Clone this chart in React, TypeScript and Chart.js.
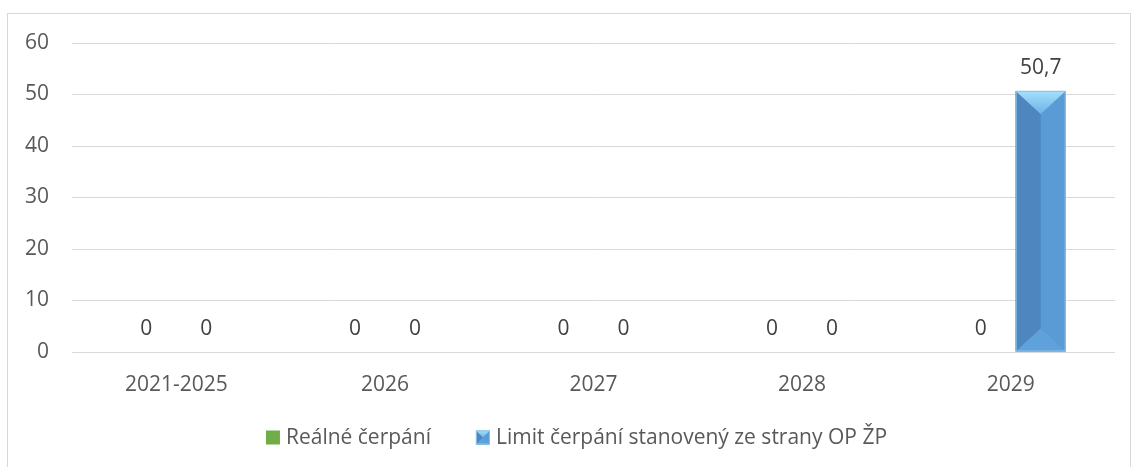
import React, { useEffect, useRef } from "react";
import { Chart, registerables } from "chart.js";

Chart.register(...registerables);

const categories = ["2021-2025", "2026", "2027", "2028", "2029"];
const realneCerpani = [0, 0, 0, 0, 0];
const limitCerpani = [0, 0, 0, 0, 50.7];
const seriesNames = ["Reálné čerpání", "Limit čerpání stanovený ze strany OP ŽP"];
const yMin = 0;
const yMax = 60;
const yStep = 10;

const FONT = "'Open Sans', 'Noto Sans', sans-serif";
const FONT_SIZE = 21;
const TEXT = "#595959";

const fmt = (v: number) => String(v).replace(".", ",");

function drawBevel(ctx: CanvasRenderingContext2D, l: number, top: number, w: number, h: number, d: number) {
  const r = l + w;
  const x = l + w / 2;
  const base = top + h;
  ctx.fillStyle = "#5b9bd5";
  ctx.fillRect(l, top, w, h);
  ctx.fillStyle = "#4e86bf";
  ctx.beginPath();
  ctx.moveTo(l, top);
  ctx.lineTo(x, top + d);
  ctx.lineTo(x, base - d);
  ctx.lineTo(l, base);
  ctx.closePath();
  ctx.fill();
  const g = ctx.createLinearGradient(0, top, 0, top + d);
  g.addColorStop(0, "#a6e0fb");
  g.addColorStop(1, "#6cb3e8");
  ctx.fillStyle = g;
  ctx.beginPath();
  ctx.moveTo(l, top);
  ctx.lineTo(r, top);
  ctx.lineTo(x, top + d);
  ctx.closePath();
  ctx.fill();
  ctx.fillStyle = "#5fa1da";
  ctx.beginPath();
  ctx.moveTo(l, base);
  ctx.lineTo(r, base);
  ctx.lineTo(x, base - d);
  ctx.closePath();
  ctx.fill();
  ctx.strokeStyle = "#8cc3ec";
  ctx.lineWidth = 1;
  ctx.strokeRect(l + 0.5, top + 0.5, w - 1, h - 1);
}

const bevelPlugin = {
  id: "bevel",
  afterDatasetsDraw(chart: any) {
    const ctx = chart.ctx;
    const meta = chart.getDatasetMeta(1);
    meta.data.forEach((el: any) => {
      const { x, y, base, width } = el.getProps(["x", "y", "base", "width"], true);
      const h = base - y;
      if (h < 2) return;
      ctx.save();
      drawBevel(ctx, x - width / 2, y, width, h, Math.min(23, h / 2));
      ctx.restore();
    });
  },
};

const labelPlugin = {
  id: "valueLabels",
  afterDatasetsDraw(chart: any) {
    const ctx = chart.ctx;
    ctx.save();
    ctx.font = `${FONT_SIZE}px ${FONT}`;
    ctx.fillStyle = "#404040";
    ctx.textAlign = "center";
    ctx.textBaseline = "middle";
    chart.data.datasets.forEach((ds: any, i: number) => {
      const meta = chart.getDatasetMeta(i);
      meta.data.forEach((el: any, j: number) => {
        ctx.fillText(fmt(ds.data[j]), el.x, el.y - 23);
      });
    });
    ctx.restore();
  },
};

const legendPlugin = {
  id: "customLegend",
  afterDraw(chart: any) {
    const ctx = chart.ctx;
    ctx.save();
    ctx.font = `${FONT_SIZE}px ${FONT}`;
    const box = 14;
    const boxGap = 6;
    const itemGap = 45;
    const items = chart.data.datasets.map((ds: any) => ({
      label: ds.label,
      color: ds.backgroundColor,
      w: box + boxGap + ctx.measureText(ds.label).width,
    }));
    const total = items.reduce((a: number, it: any) => a + it.w, 0) + itemGap * (items.length - 1);
    let x = chart.width / 2 + 11 - total / 2;
    const cy = 437.5;
    items.forEach((it: any, i: number) => {
      if (i === 1) {
        drawBevel(ctx, x, cy - box / 2, box, box, box / 2);
      } else {
        ctx.fillStyle = it.color;
        ctx.fillRect(x, cy - box / 2, box, box);
      }
      ctx.fillStyle = TEXT;
      ctx.textAlign = "left";
      ctx.textBaseline = "middle";
      ctx.fillText(it.label, x + box + boxGap, cy + 1);
      x += it.w + itemGap;
    });
    ctx.restore();
  },
};

export default function App() {
  const ref = useRef<HTMLCanvasElement>(null);
  useEffect(() => {
    if (!ref.current) return;
    const chart = new Chart(ref.current, {
      type: "bar",
      data: {
        labels: categories,
        datasets: [
          {
            label: seriesNames[0],
            data: realneCerpani,
            backgroundColor: "#70ad47",
            borderWidth: 0,
          },
          {
            label: seriesNames[1],
            data: limitCerpani,
            backgroundColor: "#5b9bd5",
            borderWidth: 0,
          },
        ],
      },
      options: {
        responsive: false,
        animation: false,
        devicePixelRatio: 1,
        layout: { padding: { left: 0, right: 16, top: 43, bottom: 0 } },
        datasets: {
          bar: { categoryPercentage: 0.575, barPercentage: 0.833 },
        },
        scales: {
          x: {
            grid: { display: false, drawTicks: false },
            border: { display: false },
            ticks: { color: TEXT, font: { family: FONT, size: FONT_SIZE }, padding: 20 },
            afterFit: (s: any) => {
              s.height = 115;
            },
          },
          y: {
            min: yMin,
            max: yMax,
            ticks: { stepSize: yStep, color: TEXT, font: { family: FONT, size: FONT_SIZE }, padding: 23 },
            grid: { color: "#d9d9d9", lineWidth: 1, drawTicks: false },
            border: { display: false },
            afterFit: (s: any) => {
              s.width = 72;
            },
          },
        },
        plugins: {
          legend: { display: false },
          tooltip: { enabled: false },
        },
      },
      plugins: [bevelPlugin, labelPlugin, legendPlugin],
    });
    return () => chart.destroy();
  }, []);
  return (
    <div style={{ position: "fixed", left: 0, top: 0, width: 1131, height: 467, background: "#fff" }}>
      <div
        style={{
          position: "absolute",
          left: 7,
          top: 13,
          width: 1124,
          height: 500,
          boxSizing: "border-box",
          border: "1px solid #d9d9d9",
        }}
      />
      <canvas ref={ref} width={1131} height={467} style={{ position: "absolute", left: 0, top: 0 }} />
    </div>
  );
}
